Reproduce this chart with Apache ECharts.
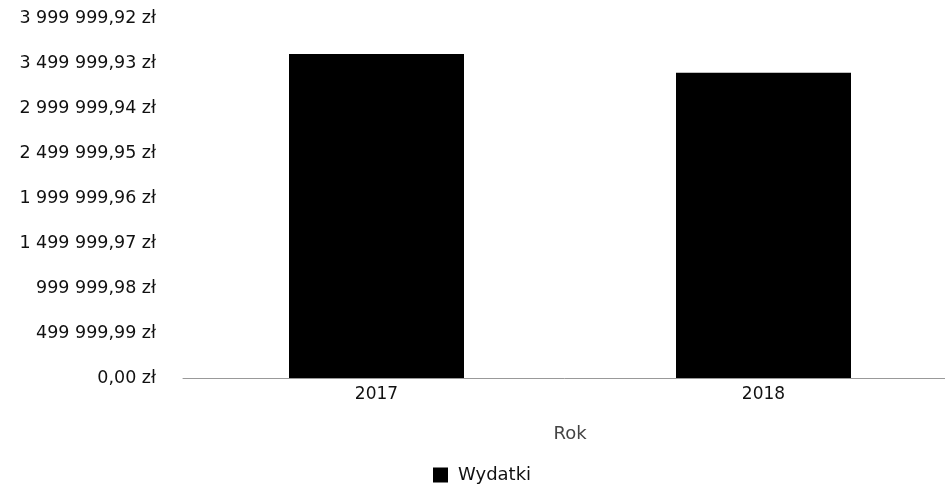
<!DOCTYPE html>
<html><head><meta charset="utf-8">
<script src="https://cdn.jsdelivr.net/npm/echarts@6/dist/echarts.min.js"></script>
<style>html,body{margin:0;padding:0;background:#fff}#c{width:945px;height:492px}</style>
</head><body><div id="c"></div>
<script>
const categories = ['2017', '2018'];
const wydatki = [3600000, 3392000];
const seriesName = 'Wydatki';
const axisName = 'Rok';
const yMax = 3999999.92;
const yStep = 499999.99;

function fmt(v) {
  const s = v.toFixed(2).split('.');
  const int = s[0].replace(/\B(?=(\d{3})+(?!\d))/g, ' ');
  return int + ',' + s[1] + ' zł';
}

const FONT = 'DejaVu Sans, sans-serif';
const chart = echarts.init(document.getElementById('c'));
chart.setOption({
  animation: false,
  textStyle: { fontFamily: FONT },
  grid: { left: 183, width: 774, top: 18, bottom: 114, containLabel: false, outerBoundsMode: 'none' },
  legend: {
    data: [seriesName], left: 433, top: 466, itemWidth: 15, itemHeight: 15, itemGap: 4,
    icon: 'rect', padding: 0,
    textStyle: { color: '#111', fontSize: 18, fontFamily: FONT, padding: [0, 0, 0, 5] }
  },
  xAxis: {
    type: 'category', data: categories,
    name: axisName, nameLocation: 'middle', nameGap: 47,
    nameTextStyle: { color: '#444', fontSize: 18, fontFamily: FONT },
    axisLine: { lineStyle: { color: '#999', width: 1 } },
    axisTick: { show: false },
    axisLabel: { color: '#111', fontSize: 17, margin: 8 }
  },
  yAxis: {
    type: 'value', min: 0, max: yMax, interval: yStep,
    axisLine: { show: false }, axisTick: { show: false },
    splitLine: { show: false },
    axisLabel: { color: '#111', fontSize: 17.5, margin: 27, formatter: fmt }
  },
  series: [{
    name: seriesName, type: 'bar', data: wydatki, barWidth: 175,
    itemStyle: { color: '#000' }
  }]
});
</script></body></html>
